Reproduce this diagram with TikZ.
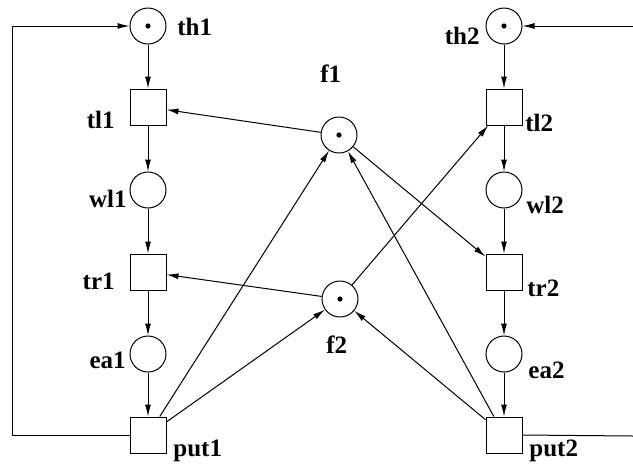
\documentclass[tikz,border=0pt]{standalone}
\usepackage{fontspec}
\setmainfont{Liberation Serif}
\usetikzlibrary{arrows.meta,positioning}
\tikzset{
  place/.style={draw, circle, minimum size=18pt, inner sep=0pt, line width=0.5pt},
  marked/.style={place, path picture={\fill (path picture bounding box.center) circle (1.3pt);}},
  trans/.style={draw, rectangle, minimum size=18pt, inner sep=0pt, line width=0.5pt},
  plbl/.style={font=\fontsize{12.5}{14}\selectfont\bfseries, inner sep=0pt},
  arc/.style={-{Latex[length=6pt,width=3pt]}, line width=0.5pt},
  wire/.style={line width=0.5pt},
}

\begin{document}
\begin{tikzpicture}[x=0.5pt, y=-0.5pt]
  \useasboundingbox (0,0) rectangle (633,463);
  % left cycle
  \node[marked] (th1) at (148,26) {};
  \node[trans] (tl1) at (148,107) {};
  \node[place] (wl1) at (148,190) {};
  \node[trans] (tr1) at (148,272) {};
  \node[place] (ea1) at (148,354) {};
  \node[trans] (put1) at (148,435) {};
  % right cycle
  \node[marked] (th2) at (504,26) {};
  \node[trans] (tl2) at (504,107) {};
  \node[place] (wl2) at (504,190) {};
  \node[trans] (tr2) at (504,272) {};
  \node[place] (ea2) at (504,354) {};
  \node[trans] (put2) at (504,435) {};
  % shared places
  \node[marked] (f1) at (339,135) {};
  \node[marked] (f2) at (340,299) {};
  % labels
  \node[plbl, anchor=base west] (th1l) at (177,35) {th1};
  \node[plbl, anchor=base east] (tl1l) at (115,128) {tl1};
  \node[plbl, anchor=base east] (wl1l) at (127,207) {wl1};
  \node[plbl, anchor=base east] (tr1l) at (115,289) {tr1};
  \node[plbl, anchor=base east] (ea1l) at (126,368) {ea1};
  \node[plbl, anchor=base west] (put1l) at (173,456) {put1};
  \node[plbl, anchor=base east] (th2l) at (480,44) {th2};
  \node[plbl, anchor=base west] (tl2l) at (525,131) {tl2};
  \node[plbl, anchor=base west] (wl2l) at (526,213) {wl2};
  \node[plbl, anchor=base west] (tr2l) at (527,296) {tr2};
  \node[plbl, anchor=base west] (ea2l) at (528,378) {ea2};
  \node[plbl, anchor=base west] (put2l) at (529,456) {put2};
  \node[plbl, anchor=base west] (f1l) at (320,82) {f1};
  \node[plbl, anchor=base west] (f2l) at (326,353) {f2};
  % vertical arcs
  \foreach \i in {1,2} {
    \draw[arc] (th\i) -- (tl\i);
    \draw[arc] (tl\i) -- (wl\i);
    \draw[arc] (wl\i) -- (tr\i);
    \draw[arc] (tr\i) -- (ea\i);
    \draw[arc] (ea\i) -- (put\i);
  }
  % forks
  \draw[arc] (f1) -- (tl1);
  \draw[arc] (f1) -- (tr2);
  \draw[arc] (f2) -- (tr1);
  \draw[arc] (f2) -- (tl2);
  \draw[arc] (put1) -- (f1);
  \draw[arc] (put1) -- (f2);
  \draw[arc] (put2) -- (f1);
  \draw[arc] (put2) -- (f2);
  % return loops
  \coordinate (loopL) at (12,26);
  \coordinate (outR) at (633,436);
  \coordinate (inR) at (633,26);
  \draw[arc] (put1.west) -| (loopL) -- (th1.west);
  \draw[wire] (put2.east) -- (outR);
  \draw[arc] (inR) -- (th2.east);
\end{tikzpicture}
\end{document}
